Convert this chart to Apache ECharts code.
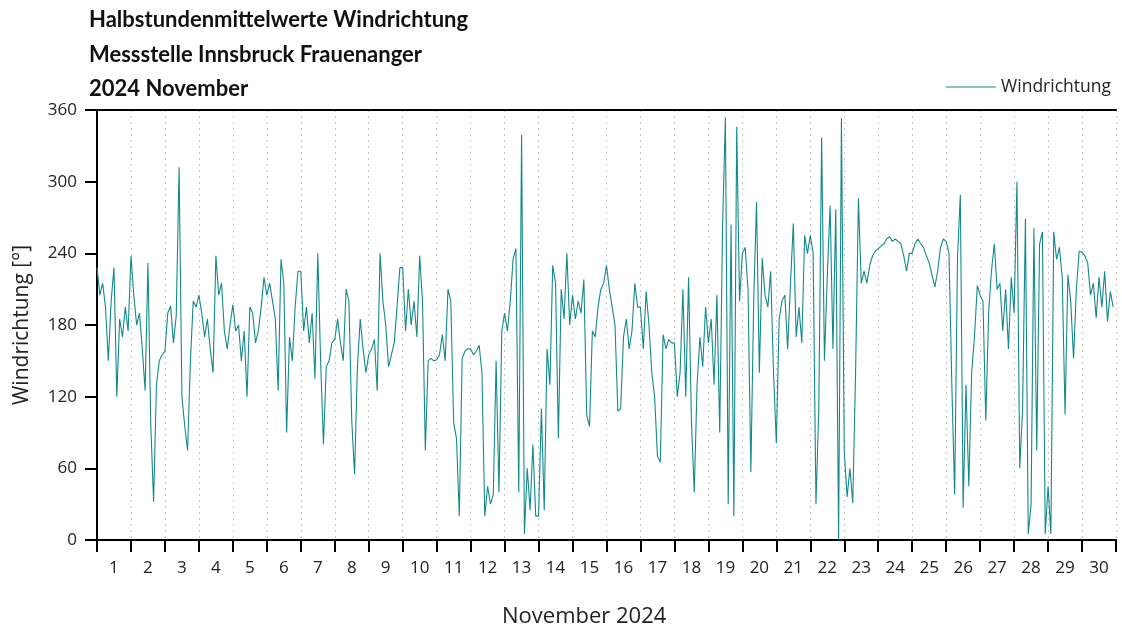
<!DOCTYPE html>
<html>
<head>
<meta charset="utf-8">
<script src="https://cdn.jsdelivr.net/npm/echarts@6/dist/echarts.min.js"></script>
<style>
html,body{margin:0;padding:0;background:#fff;}
#chart{width:1122px;height:635px;}
</style>
</head>
<body>
<div id="chart"></div>
<script>
// Tagesbeschriftungen (November 2024)
const dayLabels = ['1','2','3','4','5','6','7','8','9','10','11','12','13','14','15','16','17','18','19','20','21','22','23','24','25','26','27','28','29','30'];
const yTicks = [0, 60, 120, 180, 240, 300, 360];
const pointsPerDay = 12; // 2-hour samples

// Windrichtung [°], 12 values per day
const dirDays01to05 = [
  228,205,215,195,150,200,228,120,185,170,195,175,
  238,205,180,190,160,125,232,96,32,130,150,155,
  158,190,196,165,188,312,120,95,75,150,200,195,
  205,190,170,185,160,140,238,205,215,175,160,180,
  197,175,180,150,175,120,195,190,165,175,195,220
];
const dirDays06to10 = [
  205,215,200,185,125,235,215,90,170,150,195,225,
  225,175,195,165,190,135,240,150,80,145,150,165,
  168,185,165,150,210,200,100,55,145,185,160,140,
  155,160,168,125,240,200,180,145,155,165,195,228,
  228,175,210,180,200,170,238,200,75,150,152,150
];
const dirDays11to15 = [
  151,155,172,150,210,200,98,85,20,152,158,160,
  160,155,158,163,140,20,45,30,38,150,40,175,
  190,175,200,235,244,40,339,5,60,25,80,20,
  20,110,25,160,130,230,215,85,210,185,240,180,
  205,185,200,190,218,105,95,175,170,195,210,215
];
const dirDays16to20 = [
  230,210,195,180,108,110,170,185,160,175,215,195,
  195,160,208,180,140,120,70,65,172,160,168,165,
  165,120,140,210,120,220,100,40,130,170,145,195,
  165,185,130,205,90,262,354,30,264,20,346,200,
  240,245,210,57,200,283,140,236,205,195,225,140
];
const dirDays21to25 = [
  81,185,200,205,160,215,265,170,195,165,255,240,
  255,240,30,110,337,150,221,280,160,277,0,353,
  74,36,60,31,140,286,215,225,215,230,238,242,
  244,246,248,252,254,250,252,250,248,238,225,240,
  240,248,252,248,245,238,232,222,212,225,245,252
];
const dirDays26to30 = [
  250,240,130,38,236,289,27,130,45,140,170,213,
  205,200,100,190,225,248,210,215,175,210,160,220,
  190,300,60,110,269,5,30,261,75,248,258,5,
  45,5,258,235,245,220,105,222,200,152,210,242,
  241,238,232,205,215,186,220,195,225,183,208,195
];

const allDir = [].concat(dirDays01to05, dirDays06to10, dirDays11to15, dirDays16to20, dirDays21to25, dirDays26to30);
const seriesData = allDir.map((v, i) => [i / pointsPerDay, v]);

const chart = echarts.init(document.getElementById('chart'));
const baseFont = 'Open Sans';
const frameLine = { show: true, lineStyle: { color: '#000', width: 2 } };
chart.setOption({
  animation: false,
  backgroundColor: '#fff',
  title: {
    text: 'Halbstundenmittelwerte Windrichtung\nMessstelle Innsbruck Frauenanger\n2024 November',
    left: 84, top: -2,
    textStyle: { fontFamily: 'Lato', fontWeight: 'bold', fontSize: 22, lineHeight: 34.5, color: '#111' }
  },
  legend: {
    right: 6, top: 73,
    itemWidth: 50, itemHeight: 14, itemGap: 5,
    textStyle: { fontFamily: baseFont, fontSize: 17.5, color: '#222' },
    data: [{ name: 'Windrichtung', icon: 'path://M0,0 L50,0 L50,1 L0,1 Z' }]
  },
  grid: { left: 97, right: 6, top: 110, bottom: 95, show: false, containLabel: false },
  xAxis: [
    {
      type: 'category', data: dayLabels, boundaryGap: true, position: 'bottom',
      axisLine: frameLine,
      axisTick: { show: true, length: 12, inside: false, alignWithLabel: false, interval: 0, lineStyle: { color: '#000', width: 2 } },
      axisLabel: { interval: 0, fontFamily: baseFont, fontSize: 17, color: '#222', margin: 20 },
      splitLine: { show: true, interval: 0, lineStyle: { type: [2, 4], color: '#c8c8c8', width: 1 } }
    },
    { type: 'value', min: 0, max: 30, position: 'bottom', axisLine: { show: false }, axisTick: { show: false }, axisLabel: { show: false }, splitLine: { show: false } },
    { type: 'value', min: 0, max: 30, position: 'top', axisLine: frameLine, axisTick: { show: false }, axisLabel: { show: false }, splitLine: { show: false } }
  ],
  yAxis: [
    {
      type: 'value', min: yTicks[0], max: yTicks[yTicks.length - 1], interval: 60, position: 'left',
      name: 'Windrichtung [°]', nameLocation: 'middle', nameGap: 64, nameRotate: 90,
      nameTextStyle: { fontFamily: baseFont, fontSize: 21, color: '#222' },
      axisLine: frameLine,
      axisTick: { show: true, length: 12, inside: false, lineStyle: { color: '#000', width: 2 } },
      axisLabel: { fontFamily: baseFont, fontSize: 17, color: '#222', margin: 20 },
      splitLine: { show: false }
    },
    { type: 'value', min: 0, max: 360, position: 'right', axisLine: frameLine, axisTick: { show: false }, axisLabel: { show: false }, splitLine: { show: false } }
  ],
  graphic: [{
    type: 'text', left: 502, top: 606,
    style: { text: 'November 2024', font: '22px "Open Sans"', fill: '#222' }
  }],
  series: [{
    name: 'Windrichtung', type: 'line', xAxisIndex: 1, yAxisIndex: 0,
    data: seriesData, showSymbol: false, symbol: 'none',
    lineStyle: { color: '#13898b', width: 1.1 }, itemStyle: { color: '#13898b' }
  }]
});
</script>
</body>
</html>
